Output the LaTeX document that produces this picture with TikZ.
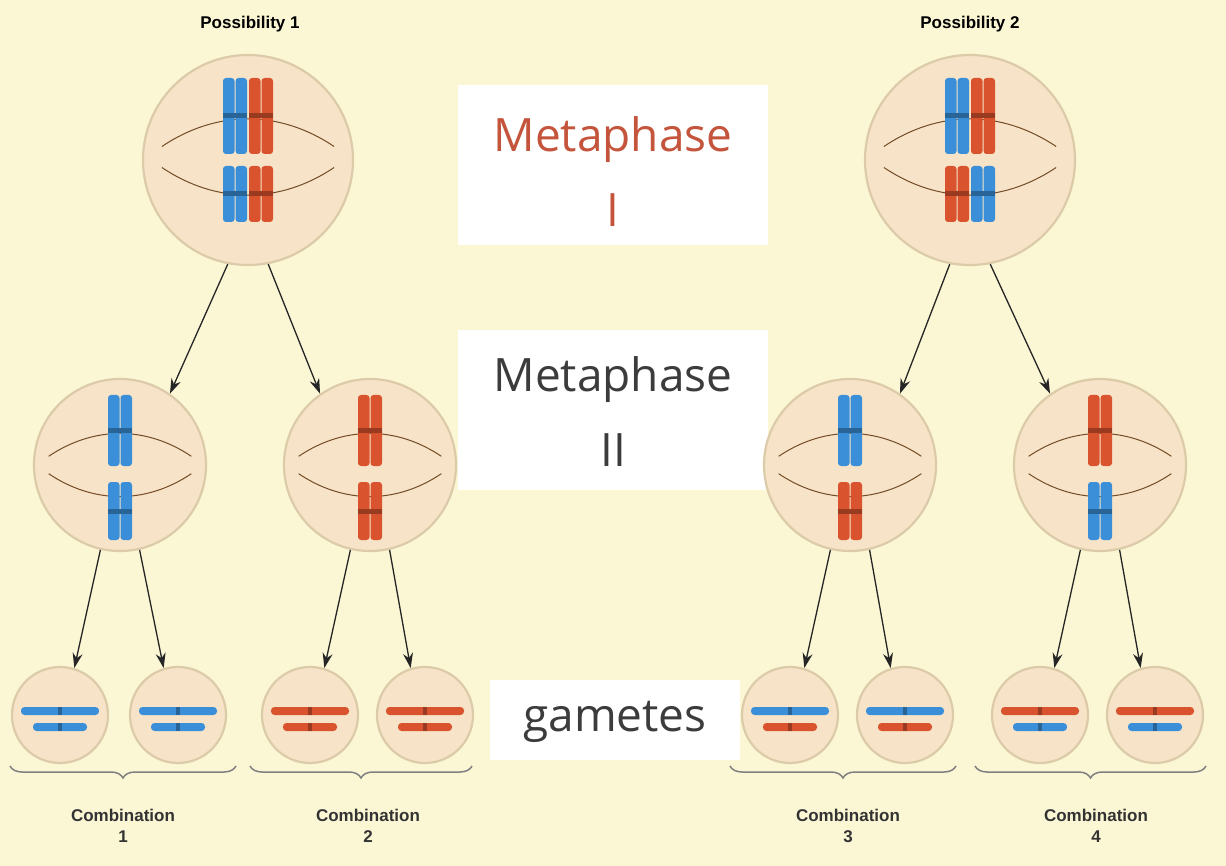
\documentclass[tikz,border=0pt]{standalone}
\usepackage{fontspec}
\setmainfont{Liberation Sans}
\newfontfamily\labfont{Open Sans}
\usetikzlibrary{decorations.pathreplacing,arrows.meta}
\definecolor{bg}{HTML}{FBF6D4}
\definecolor{cellf}{HTML}{F7E4C8}
\definecolor{celld}{HTML}{DCCBA8}
\definecolor{cb}{HTML}{3A8FD8}
\definecolor{cr}{HTML}{D9542E}
\definecolor{mred}{HTML}{C4553C}
\definecolor{mgray}{HTML}{3C3C3C}
\newcommand\chpair[4]{%
 \fill[#4,rounded corners=3pt] (#1-12,#2) rectangle (#1-0.5,#3);
 \fill[#4,rounded corners=3pt] (#1+0.5,#2) rectangle (#1+12,#3);
 \fill[#4!70!black] (#1-12,{(#2+#3)/2-2.5}) rectangle (#1+12,{(#2+#3)/2+2.5});}
\newcommand\spindle[3]{%
 \draw[brown!60!black,line width=1pt] (#1-0.82*#3,#2-0.1*#3) .. controls (#1-0.3*#3,#2-0.45*#3) and (#1+0.3*#3,#2-0.45*#3) .. (#1+0.82*#3,#2-0.1*#3);
 \draw[brown!60!black,line width=1pt] (#1-0.82*#3,#2+0.1*#3) .. controls (#1-0.3*#3,#2+0.45*#3) and (#1+0.3*#3,#2+0.45*#3) .. (#1+0.82*#3,#2+0.1*#3);}
\newcommand\gbar[4]{\fill[#4,rounded corners=3.5pt] (#1-#3,#2-4) rectangle (#1+#3,#2+4);
 \fill[#4!70!black] (#1-2,#2-4) rectangle (#1+2,#2+4);}
\tikzset{
 cell/.style={circle,fill=cellf,draw=celld,line width=2.2pt,inner sep=0pt},
 big/.style={cell,minimum size=210pt},
 med/.style={cell,minimum size=172pt},
 gam/.style={cell,minimum size=96pt},
 arr/.style={-{Stealth[length=15pt,width=10pt]},line width=1.3pt,black!85},
 wbox/.style={fill=white,draw=none},
 brc/.style={decorate,decoration={brace,mirror,amplitude=12pt},draw=black!50,line width=1.5pt},
 ttl/.style={font=\bfseries\fontsize{17}{19}\selectfont},
 comb/.style={font=\bfseries\fontsize{17}{21}\selectfont,align=center,text=black!80},
 meta/.style={font=\labfont\fontsize{46}{75}\selectfont,align=center}
}
\begin{document}
\begin{tikzpicture}[x=1pt,y=-1pt]
\fill[bg] (0,0) rectangle (1226,866);
\useasboundingbox (0,0) rectangle (1226,866);
\fill[wbox] (458,85) rectangle (768,245);
\fill[wbox] (458,330) rectangle (768,490);
\fill[wbox] (490,680) rectangle (740,760);
\node[meta,text=mred] (m1) at (613,172) {Metaphase\\I};
\node[meta,text=mgray] (m2) at (613,412) {Metaphase\\II};
\node[meta,text=mgray] (gt) at (615,722) {gametes};
\node[ttl] (p1) at (250,24) {Possibility 1};
\node[ttl] (p2) at (970,24) {Possibility 2};
\node[big] (b1) at (248,160) {};
\node[big] (b2) at (970,160) {};
\node[med] (c1) at (120,465) {};
\node[med] (c2) at (370,465) {};
\node[med] (c3) at (850,465) {};
\node[med] (c4) at (1100,465) {};
\foreach \n/\x in {g1/60,g2/178,g3/310,g4/425,g5/790,g6/905,g7/1040,g8/1155}
  \node[gam] (\n) at (\x,715) {};
\spindle{248}{157}{105}
\spindle{970}{157}{105}
\foreach \x in {120,370,850,1100} {\spindle{\x}{465}{87}}
\chpair{235}{78}{154}{cb}\chpair{261}{78}{154}{cr}
\chpair{235}{166}{222}{cb}\chpair{261}{166}{222}{cr}
\chpair{957}{78}{154}{cb}\chpair{983}{78}{154}{cr}
\chpair{957}{166}{222}{cr}\chpair{983}{166}{222}{cb}
\chpair{120}{395}{466}{cb}\chpair{120}{482}{540}{cb}
\chpair{370}{395}{466}{cr}\chpair{370}{482}{540}{cr}
\chpair{850}{395}{466}{cb}\chpair{850}{482}{540}{cr}
\chpair{1100}{395}{466}{cr}\chpair{1100}{482}{540}{cb}
\foreach \x/\a/\b in {60/cb/cb,178/cb/cb,310/cr/cr,425/cr/cr,790/cb/cr,905/cb/cr,1040/cr/cb,1155/cr/cb}{
  \gbar{\x}{711}{39}{\a}\gbar{\x}{727}{27}{\b}}
\draw[arr] (b1.-101) -- (c1.55);
\draw[arr] (b1.-79) -- (c2.125);
\draw[arr] (b2.-101) -- (c3.55);
\draw[arr] (b2.-79) -- (c4.125);
\foreach \c/\l/\r in {c1/g1/g2,c2/g3/g4,c3/g5/g6,c4/g7/g8}{
  \draw[arr] (\c.-103) -- (\l.73);
  \draw[arr] (\c.-77) -- (\r.107);}
\coordinate (k1a) at (10,766); \coordinate (k1b) at (236,766);
\coordinate (k2a) at (250,766); \coordinate (k2b) at (472,766);
\coordinate (k3a) at (730,766); \coordinate (k3b) at (956,766);
\coordinate (k4a) at (975,766); \coordinate (k4b) at (1206,766);
\draw[brc] (k1a) -- (k1b);
\draw[brc] (k2a) -- (k2b);
\draw[brc] (k3a) -- (k3b);
\draw[brc] (k4a) -- (k4b);
\node[comb] (t1) at (123,826) {Combination\\1};
\node[comb] (t2) at (368,826) {Combination\\2};
\node[comb] (t3) at (848,826) {Combination\\3};
\node[comb] (t4) at (1096,826) {Combination\\4};
\end{tikzpicture}
\end{document}
